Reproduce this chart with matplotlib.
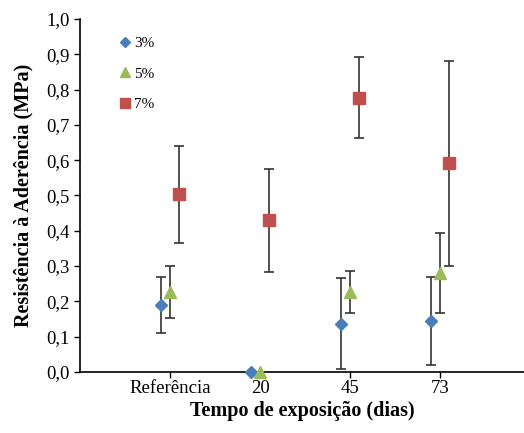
import numpy as np
import matplotlib.pyplot as plt

plt.rcParams['font.family'] = ['Liberation Serif', 'DejaVu Serif']

# data
categories = ['Referência', '20', '45', '73']
series = ['3%', '5%', '7%']
means = {
    '3%': [0.19, 0.0, 0.137, 0.144],
    '5%': [0.227, 0.0, 0.227, 0.281],
    '7%': [0.503, 0.43, 0.777, 0.591],
}
errors = {
    '3%': [0.08, 0.0, 0.13, 0.125],
    '5%': [0.074, 0.0, 0.06, 0.113],
    '7%': [0.138, 0.146, 0.115, 0.29],
}
colors = {'3%': '#4a7ebb', '5%': '#9bbb59', '7%': '#c0504d'}
markers = {'3%': 'D', '5%': '^', '7%': 's'}
sizes = {'3%': 6.5, '5%': 8.5, '7%': 8.5}
offsets = {'3%': -0.1, '5%': 0.0, '7%': 0.1}

fig = plt.figure(figsize=(5.24, 4.33), dpi=100)
ax = fig.add_axes([0.153, 0.141, 0.847, 0.815])

x = np.arange(1, len(categories) + 1)
for s in series:
    err = np.array(errors[s])
    ax.errorbar(x + offsets[s], means[s], yerr=np.where(err > 0, err, np.nan),
                fmt='none', ecolor='#333333', elinewidth=1.2, capsize=3.5, capthick=1.2)
    ax.plot(x + offsets[s], means[s], linestyle='none', marker=markers[s],
            markersize=sizes[s], color=colors[s], label=s, clip_on=False, zorder=3)

ax.set_xlim(0, 4.93)
ax.set_ylim(0, 1.0)
ax.set_yticks(np.arange(0, 1.01, 0.1))
ax.set_yticklabels([f'{v:.1f}'.replace('.', ',') for v in np.arange(0, 1.01, 0.1)])
ax.set_xticks(x)
ax.set_xticklabels(categories)
ax.tick_params(axis='both', labelsize=13.5, direction='out', length=4, width=1)
ax.tick_params(axis='x', pad=2)
ax.spines['top'].set_visible(False)
ax.spines['right'].set_visible(False)
ax.spines['left'].set_linewidth(1.2)
ax.spines['bottom'].set_linewidth(1.2)

ax.set_ylabel('Resistência à Aderência (MPa)', fontsize=14.5, fontweight='bold', labelpad=9)
ax.set_xlabel('Tempo de exposição (dias)', fontsize=14.5, fontweight='bold', labelpad=3)

ax.legend(loc='upper left', bbox_to_anchor=(0.05, 0.99), frameon=False,
          fontsize=11, labelspacing=1.1, handletextpad=0.0, handlelength=1.2,
          markerscale=0.85)

plt.savefig('out.png', dpi=100)
